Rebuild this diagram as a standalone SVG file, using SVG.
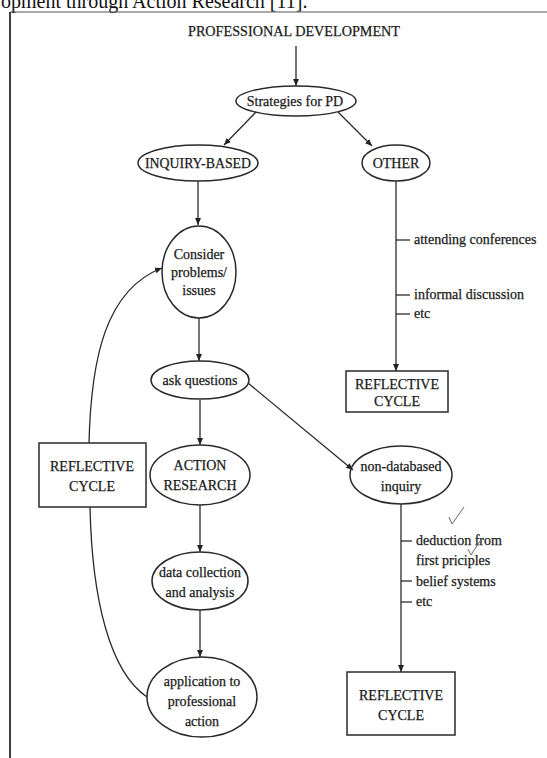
<svg xmlns="http://www.w3.org/2000/svg" width="547" height="758" viewBox="0 0 547 758">
<style>
.n{fill:none;stroke:#2a2a2a;stroke-width:1.5}
.t{font-family:"Liberation Serif","DejaVu Serif",serif;font-size:14px;fill:#1a1a1a;stroke:#1a1a1a;stroke-width:0.25;text-anchor:middle}
.l{font-family:"Liberation Serif","DejaVu Serif",serif;font-size:14px;fill:#1a1a1a;stroke:#1a1a1a;stroke-width:0.25}
.c{fill:none;stroke:#2a2a2a;stroke-width:1.3}
.ck{fill:none;stroke:#666;stroke-width:1}
</style>
<defs>
<marker id="a" markerWidth="8" markerHeight="8" refX="7" refY="4" orient="auto" markerUnits="userSpaceOnUse">
<path d="M0,1 L7,4 L0,7 Z" fill="#222"/>
</marker>
</defs>
<rect width="547" height="758" fill="#fff"/>
<text x="1" y="8" style="font-family:'Liberation Serif',serif;font-size:20px;fill:#111">opment through Action Research [11].</text>
<g id="frame">
<line x1="10" y1="12" x2="547" y2="12" stroke="#555" stroke-width="1.2"/>
<line x1="10" y1="12" x2="10" y2="758" stroke="#111" stroke-width="1.6"/>
</g>
<g id="connectors">
<line class="c" x1="296" y1="46" x2="296" y2="86" marker-end="url(#a)"/>
<line class="c" x1="256" y1="112" x2="224" y2="145" marker-end="url(#a)"/>
<line class="c" x1="338" y1="112" x2="372" y2="146" marker-end="url(#a)"/>
<line class="c" x1="198" y1="181" x2="198" y2="225" marker-end="url(#a)"/>
<line class="c" x1="396" y1="181" x2="396" y2="371" marker-end="url(#a)"/>
<line class="c" x1="396" y1="240" x2="410" y2="240"/>
<line class="c" x1="396" y1="295" x2="410" y2="295"/>
<line class="c" x1="396" y1="314" x2="410" y2="314"/>
<line class="c" x1="199" y1="318" x2="199" y2="361" marker-end="url(#a)"/>
<line class="c" x1="248" y1="383" x2="353" y2="470" marker-end="url(#a)"/>
<line class="c" x1="200" y1="400" x2="200" y2="445" marker-end="url(#a)"/>
<line class="c" x1="200" y1="505" x2="200" y2="552" marker-end="url(#a)"/>
<line class="c" x1="200" y1="610" x2="200" y2="657" marker-end="url(#a)"/>
<line class="c" x1="401" y1="504" x2="401" y2="672" marker-end="url(#a)"/>
<line class="c" x1="401" y1="541" x2="412" y2="541"/>
<line class="c" x1="401" y1="581" x2="412" y2="581"/>
<line class="c" x1="401" y1="602" x2="412" y2="602"/>
<path class="c" d="M89,443 C91,360 105,290 162,268" marker-end="url(#a)"/>
<path class="c" d="M90,507 C92,600 110,672 147,697"/>
</g>
<g id="title"><text class="t" x="294" y="36" textLength="212" lengthAdjust="spacingAndGlyphs" style="font-size:15px">PROFESSIONAL DEVELOPMENT</text></g>
<g id="strategies"><ellipse class="n" cx="296" cy="101" rx="60" ry="15"/><text class="t" x="295" y="106">Strategies for PD</text></g>
<g id="inquiry"><ellipse class="n" cx="198" cy="163" rx="60" ry="18"/><text class="t" x="198" y="168" textLength="106" lengthAdjust="spacingAndGlyphs">INQUIRY-BASED</text></g>
<g id="other"><ellipse class="n" cx="396" cy="163" rx="34" ry="18"/><text class="t" x="396" y="168">OTHER</text></g>
<g id="other-list">
<text class="l" x="414" y="244">attending conferences</text>
<text class="l" x="414" y="299">informal discussion</text>
<text class="l" x="414" y="318">etc</text>
</g>
<g id="reflective-top"><rect class="n" x="346" y="371" width="102" height="41"/><text class="t" x="397" y="389">REFLECTIVE</text><text class="t" x="397" y="406">CYCLE</text></g>
<g id="consider"><ellipse class="n" cx="199" cy="272" rx="37" ry="46"/><text class="t" x="199" y="259">Consider</text><text class="t" x="199" y="277">problems/</text><text class="t" x="199" y="295">issues</text></g>
<g id="ask"><ellipse class="n" cx="200" cy="380" rx="49" ry="19"/><text class="t" x="200" y="385">ask questions</text></g>
<g id="action"><ellipse class="n" cx="200" cy="475" rx="50" ry="30"/><text class="t" x="200" y="470">ACTION</text><text class="t" x="200" y="490">RESEARCH</text></g>
<g id="reflective-left"><rect class="n" x="39" y="443" width="107" height="64"/><text class="t" x="92" y="471">REFLECTIVE</text><text class="t" x="92" y="491">CYCLE</text></g>
<g id="nondata"><ellipse class="n" cx="401" cy="475" rx="51" ry="29"/><text class="t" x="401" y="471">non-databased</text><text class="t" x="401" y="491">inquiry</text></g>
<g id="nondata-list">
<text class="l" x="416" y="545">deduction from</text>
<text class="l" x="416" y="565">first priciples</text>
<text class="l" x="416" y="586">belief systems</text>
<text class="l" x="416" y="606">etc</text>
<path class="ck" d="M449,517 L452,524 L464,507"/>
<path class="ck" d="M468,549 L471,555 L482,538"/>
</g>
<g id="datacoll"><ellipse class="n" cx="200" cy="581" rx="48" ry="29"/><text class="t" x="200" y="577">data collection</text><text class="t" x="200" y="597">and analysis</text></g>
<g id="application"><ellipse class="n" cx="202" cy="697" rx="55" ry="40"/><text class="t" x="202" y="686">application to</text><text class="t" x="202" y="706">professional</text><text class="t" x="202" y="726">action</text></g>
<g id="reflective-bottom"><rect class="n" x="347" y="672" width="108" height="63"/><text class="t" x="401" y="700">REFLECTIVE</text><text class="t" x="401" y="720">CYCLE</text></g>
</svg>
